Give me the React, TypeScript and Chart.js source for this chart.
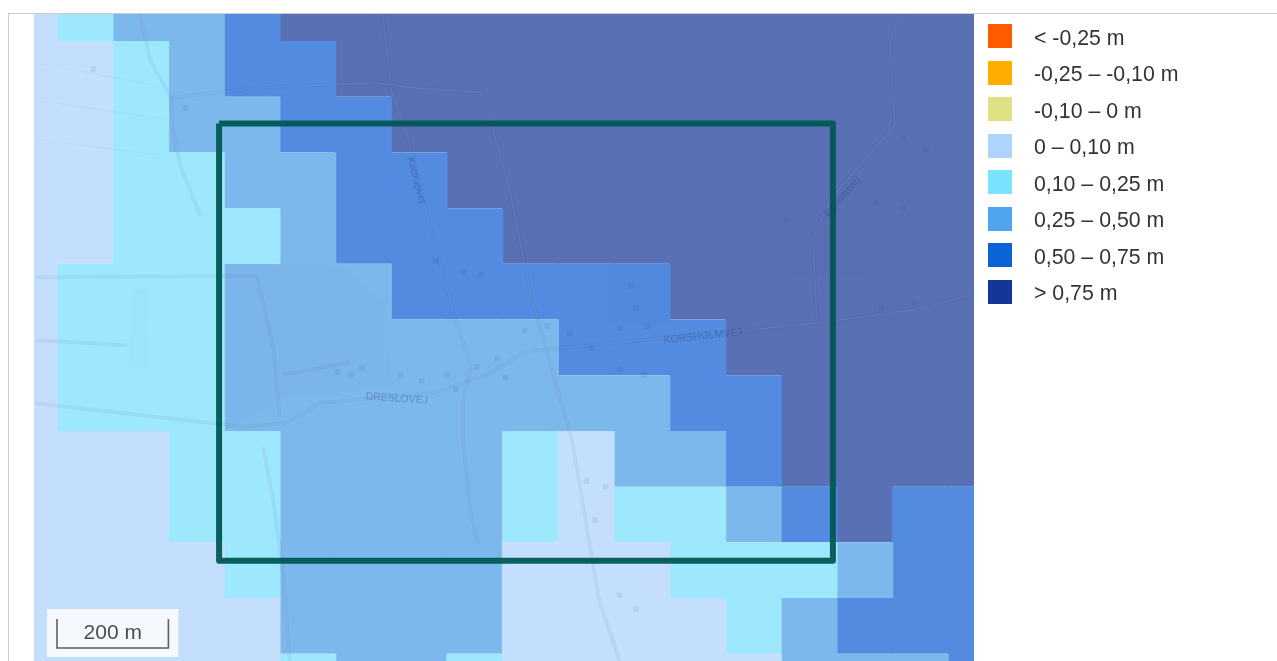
import React, { useEffect, useRef } from "react";
import { Chart, registerables } from "chart.js";

Chart.register(...registerables);

// Height classes (legend order)
const classLabels = ["< -0,25 m", "-0,25 – -0,10 m", "-0,10 – 0 m", "0 – 0,10 m", "0,10 – 0,25 m", "0,25 – 0,50 m", "0,50 – 0,75 m", "> 0,75 m"];
const legendColors = ["#FF5C00", "#FFAE00", "#E0E085", "#AED3FF", "#79E2FF", "#50A5EC", "#0A64D8", "#133699"];
const cellColors = ["#FF8D4D", "#FFC64D", "#E9E9A9", "#C4DFFE", "#9EE8FE", "#7DB8EC", "#528BDF", "#5A70B5"];

// Class index per grid cell; cells are 100 m wide, rows run north to south
const row0 = [3, 4, 5, 5, 6, 7, 7, 7, 7, 7, 7, 7, 7, 7, 7, 7, 7, 7];
const row1 = [3, 3, 4, 5, 6, 6, 7, 7, 7, 7, 7, 7, 7, 7, 7, 7, 7, 7];
const row2 = [3, 3, 4, 5, 5, 6, 6, 7, 7, 7, 7, 7, 7, 7, 7, 7, 7, 7];
const row3 = [3, 3, 4, 4, 5, 5, 6, 6, 7, 7, 7, 7, 7, 7, 7, 7, 7, 7];
const row4 = [3, 3, 4, 4, 4, 5, 6, 6, 6, 7, 7, 7, 7, 7, 7, 7, 7, 7];
const row5 = [3, 4, 4, 4, 5, 5, 5, 6, 6, 6, 6, 6, 7, 7, 7, 7, 7, 7];
const row6 = [3, 4, 4, 4, 5, 5, 5, 5, 5, 5, 6, 6, 6, 7, 7, 7, 7, 7];
const row7 = [3, 4, 4, 4, 5, 5, 5, 5, 5, 5, 5, 5, 6, 6, 7, 7, 7, 7];
const row8 = [3, 3, 3, 4, 4, 5, 5, 5, 5, 4, 3, 5, 5, 6, 7, 7, 7, 7];
const row9 = [3, 3, 3, 4, 4, 5, 5, 5, 5, 4, 3, 4, 4, 5, 6, 7, 6, 6];
const row10 = [3, 3, 3, 3, 4, 5, 5, 5, 5, 3, 3, 3, 4, 4, 4, 5, 6, 6];
const row11 = [3, 3, 3, 3, 3, 5, 5, 5, 5, 3, 3, 3, 3, 4, 5, 6, 6, 6];
const row12 = [3, 3, 3, 3, 3, 4, 5, 5, 4, 3, 3, 3, 3, 3, 5, 5, 5, 6];
const gridRows = [row0, row1, row2, row3, row4, row5, row6, row7, row8, row9, row10, row11, row12];

// Map extent in metres
const xExtent = [-41.3, 1646.3];
const yExtent = [-48.5, 1113];

// Study area outline in metres
const studyArea = [[291, 148], [1393, 148], [1393, 933], [291, 933], [291, 148]];

// Roads of the base map in metres
const roadKattrup = [[585, -48], [600, 88], [629, 169], [659, 294], [713, 492], [743, 583], [729, 647], [729, 718], [742, 844], [756, 904]];
const roadSouth = [[638, 84], [760, 92], [778, 142], [813, 269], [849, 449], [905, 647], [925, 718], [973, 1003], [1010, 1113]];
const roadNorth = [[149, -48], [167, 34], [205, 102], [363, 84], [574, 75], [638, 84]];
const roadWest = [[205, 102], [208, 160], [221, 223], [257, 314]];
const roadMain = [[-41, 650], [339, 693], [352, 691], [411, 686], [472, 650], [556, 642], [675, 632], [765, 602], [844, 557], [903, 551], [1088, 533], [1370, 506], [1555, 480], [1646, 453]];
const roadFarm = [[-39, 424], [257, 422], [359, 422], [388, 550], [400, 675]];
const roadFarmLower = [[-39, 537], [126, 546]];
const roadLoop = [[406, 599], [526, 577]];
const roadSouthWest = [[370, 729], [388, 824], [406, 955], [418, 1113]];
const roadEast = [[1513, -48], [1495, 4], [1504, 151], [1388, 285], [1357, 357], [1364, 501]];
const fieldTracks = [[-41, 38], [193, 83]];
const fieldTracks2 = [[-41, 106], [190, 140]];
const fieldTracks3 = [[-41, 176], [186, 205]];
const roadSets = [roadKattrup, roadSouth, roadNorth, roadWest, roadMain, roadFarm, roadFarmLower, roadLoop, roadSouthWest, roadEast];
const trackSets = [fieldTracks, fieldTracks2, fieldTracks3];

// Tinted land parcels of the base map in metres
const parcelMain = [[300, 402], [510, 402], [590, 470], [600, 620], [410, 640], [300, 700], [300, 402]];
const parcelEast = [[990, 390], [1100, 390], [1100, 510], [990, 510], [990, 390]];
const parcelFarmEast = [[1310, 300], [1450, 300], [1450, 420], [1310, 420], [1310, 300]];
const parcelStrip = [[135, 445], [165, 445], [160, 590], [128, 590], [135, 445]];
const parcelSets = [parcelMain, parcelEast, parcelFarmEast, parcelStrip];

// Buildings of the base map in metres
const buildings = [[503, 594], [528, 600], [548, 587], [617, 600], [655, 610], [700, 600], [716, 625], [754, 585], [790, 570], [805, 605], [840, 520], [880, 512], [920, 525], [960, 550], [1010, 515], [1060, 512], [1010, 590], [1055, 600], [680, 395], [730, 415], [760, 420], [1030, 440], [1040, 480], [1520, 175], [1560, 195], [1470, 290], [1520, 300], [1310, 320], [1540, 470], [1480, 480], [950, 790], [985, 800], [965, 860], [1010, 995], [1040, 1020], [230, 120], [65, 50]];

// Street names with their position in metres and angle in degrees
const streetNames = ["Kattrupvej", "DRESLOVEJ", "KORSHOLMVEJ", "Egholmvej"];
const streetX = [645, 610, 1160, 1410];
const streetY = [250, 642, 530, 280];
const streetAngle = [75, 4, -6, -50];

const scaleMetres = 200;
const scaleText = "200 m";

function cellBars(classIndex: number) {
  const out: { x: number; y: [number, number] }[] = [];
  const columns = gridRows[0].length;
  for (let c = 0; c < columns; c++) {
    let r = 0;
    while (r < gridRows.length) {
      const k = gridRows[r][c];
      let e = r;
      while (e + 1 < gridRows.length && gridRows[e + 1][c] === k) e++;
      if (k === classIndex) out.push({ x: (c - 1) * 100 + 50, y: [(r - 1) * 100, e * 100] });
      r = e + 1;
    }
  }
  return out;
}

const overlayPlugin = {
  id: "mapOverlay",
  afterDatasetsDraw(chart: any) {
    const { ctx, scales, chartArea } = chart;
    const { x, y } = scales;
    ctx.save();
    ctx.beginPath();
    ctx.rect(chartArea.left, chartArea.top, chartArea.width, chartArea.height);
    ctx.clip();
    // street names
    streetNames.forEach((name, i) => {
      ctx.save();
      ctx.translate(x.getPixelForValue(streetX[i]), y.getPixelForValue(streetY[i]));
      ctx.rotate((streetAngle[i] * Math.PI) / 180);
      ctx.font = '10.5px "Liberation Sans"';
      ctx.fillStyle = "rgba(30,50,110,0.3)";
      ctx.textAlign = "center";
      ctx.textBaseline = "middle";
      ctx.fillText(name, 0, 0);
      ctx.restore();
    });
    // scale bar
    const x0 = x.getPixelForValue(0);
    const x1 = x.getPixelForValue(scaleMetres);
    ctx.fillStyle = "rgba(248,250,253,0.92)";
    ctx.fillRect(x0 - 10, 609, x1 - x0 + 20, 48);
    ctx.strokeStyle = "#5c5f66";
    ctx.lineWidth = 1.6;
    ctx.beginPath();
    ctx.moveTo(x0, 619);
    ctx.lineTo(x0, 648);
    ctx.lineTo(x1, 648);
    ctx.lineTo(x1, 619);
    ctx.stroke();
    ctx.fillStyle = "#4a4d52";
    ctx.font = '21px "Liberation Sans"';
    ctx.textAlign = "center";
    ctx.textBaseline = "middle";
    ctx.fillText(scaleText, (x0 + x1) / 2, 633);
    ctx.restore();
  },
};

function toPoints(list: number[][]) {
  return list.map(([x, y]) => ({ x, y }));
}

export default function App() {
  const ref = useRef<HTMLCanvasElement>(null);
  useEffect(() => {
    document.body.style.margin = "0";
    const datasets: any[] = classLabels.map((label, i) => ({
      type: "bar",
      label,
      data: cellBars(i),
      backgroundColor: cellColors[i],
      borderWidth: 0,
      grouped: false,
      categoryPercentage: 1,
      barPercentage: 1.025,
      order: 9,
    }));
    parcelSets.forEach((p, i) => {
      datasets.push({
        type: "scatter",
        label: "parcel " + i,
        data: toPoints(p),
        showLine: true,
        fill: "shape",
        backgroundColor: "rgba(40,90,110,0.025)",
        borderWidth: 0,
        pointRadius: 0,
        order: 8,
      });
    });
    roadSets.forEach((road, i) => {
      datasets.push({
        type: "scatter",
        label: "road casing " + i,
        data: toPoints(road),
        showLine: true,
        borderColor: "rgba(40,70,130,0.08)",
        borderWidth: 3.5,
        pointRadius: 0,
        order: 7,
      });
      datasets.push({
        type: "scatter",
        label: "road " + i,
        data: toPoints(road),
        showLine: true,
        borderColor: "rgba(255,255,255,0.08)",
        borderWidth: 1.5,
        pointRadius: 0,
        order: 6,
      });
    });
    trackSets.forEach((t, i) => {
      datasets.push({
        type: "scatter",
        label: "track " + i,
        data: toPoints(t),
        showLine: true,
        borderColor: "rgba(60,90,150,0.06)",
        borderWidth: 1,
        pointRadius: 0,
        order: 5,
      });
    });
    datasets.push({
      type: "scatter",
      label: "buildings",
      data: toPoints(buildings),
      pointStyle: "rect",
      pointRadius: 4,
      pointBackgroundColor: "rgba(40,60,110,0.09)",
      pointBorderWidth: 0,
      order: 3,
    });
    datasets.push({
      type: "scatter",
      label: "study area",
      data: toPoints(studyArea),
      showLine: true,
      borderColor: "rgba(0,88,84,0.95)",
      borderWidth: 6,
      borderJoinStyle: "round",
      pointRadius: 0,
      order: 1,
    });
    const chart = new Chart(ref.current!, {
      type: "bar",
      data: { datasets },
      plugins: [overlayPlugin],
      options: {
        animation: false,
        responsive: false,
        events: [],
        layout: { padding: { left: 34, top: 14, right: 303, bottom: 0 } },
        plugins: { legend: { display: false }, tooltip: { enabled: false } },
        scales: {
          x: {
            type: "linear",
            display: false,
            offset: false,
            min: xExtent[0],
            max: xExtent[1],
            ticks: { stepSize: 100, includeBounds: false },
          },
          y: {
            type: "linear",
            display: false,
            reverse: true,
            min: yExtent[0],
            max: yExtent[1],
          },
        },
      },
    } as any);
    return () => chart.destroy();
  }, []);

  return (
    <div style={{ position: "absolute", left: 0, top: 0, width: 1277, height: 661, overflow: "hidden", background: "#fff" }}>
      <canvas ref={ref} width={1277} height={665} style={{ position: "absolute", left: 0, top: 0, display: "block" }} />
      <div style={{ position: "absolute", left: 8, top: 13, width: 1269, height: 1, background: "#ccc" }} />
      <div style={{ position: "absolute", left: 8, top: 13, width: 1, height: 648, background: "#ccc" }} />
      {classLabels.map((label, i) => (
        <div key={label} style={{ position: "absolute", left: 988, top: 24 + i * 36.55, height: 24, display: "flex", alignItems: "center" }}>
          <span style={{ width: 24, height: 24, background: legendColors[i], display: "block" }} />
          <span style={{ marginLeft: 22, font: '21.3px "Liberation Sans", Arial, sans-serif', color: "#333", whiteSpace: "nowrap", position: "relative", top: 2 }}>{label}</span>
        </div>
      ))}
    </div>
  );
}
